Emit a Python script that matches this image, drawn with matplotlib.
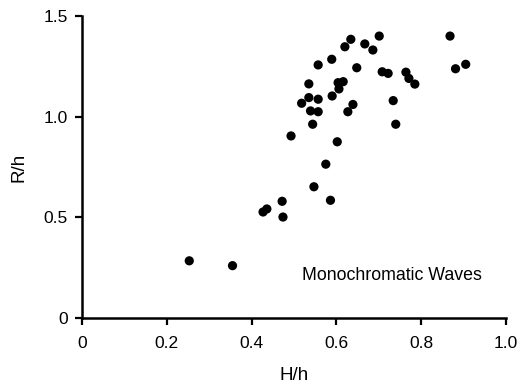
import matplotlib
matplotlib.use("Agg")
import matplotlib.pyplot as plt

H_h = [0.253, 0.355, 0.427, 0.436, 0.472, 0.474, 0.493, 0.518, 0.535, 0.535,
       0.539, 0.544, 0.547, 0.557, 0.557, 0.557, 0.575, 0.586, 0.589, 0.590,
       0.606, 0.604, 0.616, 0.602, 0.620, 0.634, 0.627, 0.639, 0.648, 0.667,
       0.686, 0.701, 0.708, 0.722, 0.734, 0.740, 0.764, 0.771, 0.785, 0.868,
       0.881, 0.905]
R_h = [0.285, 0.261, 0.527, 0.542, 0.580, 0.502, 0.904, 1.066, 1.162, 1.094,
       1.028, 0.962, 0.652, 1.256, 1.086, 1.024, 0.764, 0.585, 1.284, 1.102,
       1.137, 1.168, 1.173, 0.875, 1.346, 1.383, 1.024, 1.060, 1.242, 1.360,
       1.330, 1.399, 1.222, 1.214, 1.079, 0.962, 1.220, 1.189, 1.161, 1.399,
       1.237, 1.259]

xticks = [0, 0.2, 0.4, 0.6, 0.8, 1.0]
xticklabels = ["0", "0.2", "0.4", "0.6", "0.8", "1.0"]
yticks = [0, 0.5, 1.0, 1.5]
yticklabels = ["0", "0.5", "1.0", "1.5"]

plt.rcParams['font.family'] = ['Liberation Sans', 'DejaVu Sans']

fig = plt.figure(figsize=(5.21, 3.87), dpi=100)
ax = fig.add_axes([82/521, (387-318.3)/387, (506-82)/521, (318.3-15.7)/387])

ax.scatter(H_h, R_h, s=44, color='black', edgecolors='none', zorder=3, clip_on=False)

ax.set_xlim(0, 1.0)
ax.set_ylim(0, 1.5)
ax.set_xticks(xticks)
ax.set_xticklabels(xticklabels)
ax.set_yticks(yticks)
ax.set_yticklabels(yticklabels)

for s in ['top', 'right']:
    ax.spines[s].set_visible(False)
for s in ['left', 'bottom']:
    ax.spines[s].set_linewidth(1.8)
    ax.spines[s].set_color('black')

ax.tick_params(direction='out', length=5, width=1.6, labelsize=12.5, colors='black')
ax.tick_params(axis='x', pad=8)
ax.tick_params(axis='y', pad=5)
ax.set_xlabel("H/h", fontsize=13.5, labelpad=11)
ax.set_ylabel("R/h", fontsize=13.5, labelpad=12)

ax.text(0.519, 0.143, "Monochromatic Waves", transform=ax.transAxes,
        fontsize=12.8, va='center', ha='left')

fig.savefig("out.png", dpi=100)
